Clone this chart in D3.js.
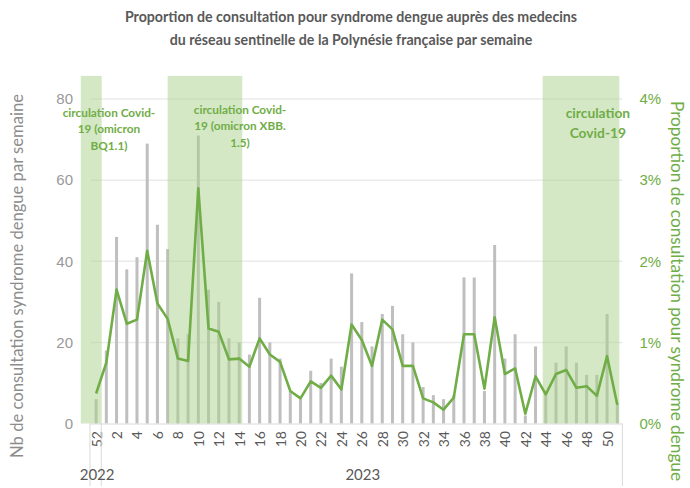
<!DOCTYPE html>
<html>
<head>
<meta charset="utf-8">
<script src="https://cdn.jsdelivr.net/npm/d3@7"></script>
<style>
  body { margin: 0; background: #fff; }
  svg { font-family: Lato, "Open Sans", sans-serif; }
</style>
</head>
<body>
<svg id="chart" width="690" height="488"></svg>
<script>
// weeks: 52 of 2022, then 1..51 of 2023
const weeks = [52, 1, 2, 3, 4, 5, 6, 7, 8, 9, 10, 11, 12, 13, 14, 15, 16, 17, 18, 19, 20,
  21, 22, 23, 24, 25, 26, 27, 28, 29, 30, 31, 32, 33, 34, 35, 36, 37, 38, 39, 40,
  41, 42, 43, 44, 45, 46, 47, 48, 49, 50, 51];
const counts = [6, 18, 46, 38, 41, 69, 49, 43, 21, 22, 71, 33, 30, 21, 20, 17, 31, 20, 16, 8, 6,
  13, 10, 16, 14, 37, 25, 19, 27, 29, 22, 20, 9, 7, 6, 7, 36, 36, 8, 44, 16,
  22, 2, 19, 8, 15, 19, 15, 12, 12, 27, 5];
// proportion in %
const pct = [0.37, 0.75, 1.65, 1.23, 1.28, 2.13, 1.48, 1.29, 0.80, 0.77, 2.90, 1.17, 1.13, 0.79, 0.80, 0.70, 1.05, 0.85, 0.76, 0.40, 0.31,
  0.52, 0.44, 0.59, 0.42, 1.22, 1.03, 0.71, 1.28, 1.16, 0.71, 0.71, 0.31, 0.26, 0.17, 0.32, 1.10, 1.10, 0.43, 1.31, 0.61,
  0.68, 0.12, 0.58, 0.36, 0.61, 0.66, 0.44, 0.46, 0.34, 0.83, 0.23];
const years = [{label: "2022", from: 0, to: 1}, {label: "2023", from: 1, to: 52}];
// covid periods, in week-slot units (0 = week 52 of 2022)
const covidPeriods = [[-1, 1.05], [7.5, 14.8], [44.2, 51.7]];
const covidLabels = [
  ["circulation Covid-", "19 (omicron", "BQ1.1)"],
  ["circulation Covid-", "19 (omicron XBB.", "1.5)"],
  ["circulation", "Covid-19"]
];
const leftTicks = [0, 20, 40, 60, 80];
const rightTicks = [0, 0.01, 0.02, 0.03, 0.04];

const green = '#70ad47';
const svg = d3.select('#chart');

let plotLeft = 91, plotRight = 622.4, plotTop = 99, plotBottom = 423.5;
let x = d3.scaleBand().domain(d3.range(weeks.length)).range([plotLeft, plotRight]);
let xs = d3.scaleLinear().domain([0, weeks.length]).range([plotLeft, plotRight]);
let yL = d3.scaleLinear().domain([0, 80]).range([plotBottom, plotTop]);
let yR = d3.scaleLinear().domain([0, 0.04]).range([plotBottom, plotTop]);

// title
svg.append('text')
  .attr('x', 351).attr('y', 22)
  .attr('text-anchor', 'middle')
  .attr('font-weight', 'bold').attr('font-size', 14.2).attr('fill', '#595959')
  .selectAll('tspan')
  .data(["Proportion de consultation pour syndrome dengue auprès des medecins",
         "du réseau sentinelle de la Polynésie française par semaine"])
  .join('tspan')
  .attr('x', 351).attr('dy', (d, i) => i ? 23 : 0)
  .text(d => d);

// gridlines
svg.append('g')
  .selectAll('line')
  .data(leftTicks.slice(1))
  .join('line')
  .attr('x1', plotLeft).attr('x2', plotRight)
  .attr('y1', d => yL(d)).attr('y2', d => yL(d))
  .attr('stroke', '#ebebeb').attr('stroke-width', 1.5);

// bars
svg.append('g')
  .selectAll('rect')
  .data(counts)
  .join('rect')
  .attr('x', (d, i) => x(i) + x.bandwidth() / 2 - 1.5)
  .attr('width', 3)
  .attr('y', d => yL(d))
  .attr('height', d => yL(0) - yL(d))
  .attr('fill', '#bfbfbf');

// covid shading
svg.append('g')
  .selectAll('rect')
  .data(covidPeriods)
  .join('rect')
  .attr('x', d => xs(d[0]))
  .attr('width', d => xs(d[1]) - xs(d[0]))
  .attr('y', yL(85.7))
  .attr('height', yL(0) - yL(85.7))
  .attr('fill', '#a9d18e')
  .attr('fill-opacity', 0.5);

// covid labels
let labelPos = [{c: 1.76, y: 117, fs: 11.8, lh: 16.3}, {c: 14.58, y: 114, fs: 11.8, lh: 16.3}, {c: 49.6, y: 118, fs: 13.8, lh: 19.5}];
covidLabels.forEach((lines, k) => {
  let p = labelPos[k];
  svg.append('text')
    .attr('text-anchor', 'middle')
    .attr('font-weight', 'bold')
    .attr('font-size', p.fs)
    .attr('fill', green)
    .selectAll('tspan')
    .data(lines)
    .join('tspan')
    .attr('x', xs(p.c))
    .attr('y', (d, i) => p.y + i * p.lh)
    .text(d => d);
});

// baseline
svg.append('line')
  .attr('x1', plotLeft - 1).attr('x2', plotRight)
  .attr('y1', plotBottom + 0.5).attr('y2', plotBottom + 0.5)
  .attr('stroke', '#d9d9d9').attr('stroke-width', 1);

// line
svg.append('path')
  .datum(pct)
  .attr('fill', 'none')
  .attr('stroke', green)
  .attr('stroke-width', 2.6)
  .attr('stroke-linejoin', 'round')
  .attr('d', d3.line().x((d, i) => x(i) + x.bandwidth() / 2).y(d => yR(d / 100)));

// left axis
let axL = svg.append('g')
  .attr('transform', `translate(${plotLeft},0)`)
  .call(d3.axisLeft(yL).tickValues(leftTicks).tickSize(0).tickPadding(18));
axL.select('.domain').remove();
axL.selectAll('text').attr('font-size', 15).attr('fill', '#999').attr('font-family', null);

// right axis
let axR = svg.append('g')
  .attr('transform', `translate(${plotRight},0)`)
  .call(d3.axisRight(yR).tickValues(rightTicks).tickFormat(d3.format('.0%')).tickSize(0).tickPadding(17));
axR.select('.domain').remove();
axR.selectAll('text').attr('font-size', 15).attr('fill', green).attr('font-family', null);

// x labels
svg.append('g')
  .selectAll('text')
  .data(weeks.map((w, i) => ({w, i})).filter(d => d.w % 2 == 0))
  .join('text')
  .attr('transform', d => `translate(${x(d.i) + x.bandwidth() / 2},431) rotate(-90)`)
  .attr('text-anchor', 'end')
  .attr('dominant-baseline', 'central')
  .attr('font-size', 14)
  .attr('fill', '#595959')
  .text(d => d.w);

// year separators
svg.append('g')
  .selectAll('line')
  .data([-0.1, 1, 52])
  .join('line')
  .attr('x1', d => xs(d)).attr('x2', d => xs(d))
  .attr('y1', plotBottom).attr('y2', 486)
  .attr('stroke', '#d9d9d9').attr('stroke-width', 1);

svg.append('g')
  .selectAll('text')
  .data(years)
  .join('text')
  .attr('x', d => xs((d.from + d.to) / 2) + 1)
  .attr('y', 480)
  .attr('text-anchor', 'middle')
  .attr('font-size', 15)
  .attr('fill', '#595959')
  .text(d => d.label);

// axis titles
svg.append('text')
  .attr('transform', 'translate(23,276) rotate(-90)')
  .attr('text-anchor', 'middle')
  .attr('font-size', 16.6)
  .attr('fill', '#8c8c8c')
  .text('Nb de consultation syndrome dengue par semaine');

svg.append('text')
  .attr('transform', 'translate(671,291) rotate(90)')
  .attr('text-anchor', 'middle')
  .attr('font-size', 17.2)
  .attr('fill', green)
  .text('Proportion de consultation pour syndrome dengue');
</script>
</body>
</html>
